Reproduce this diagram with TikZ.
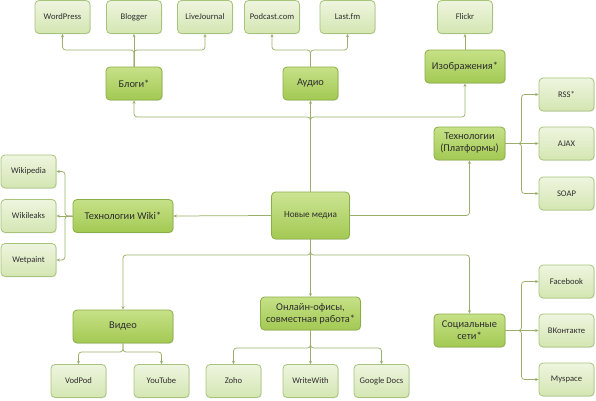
\documentclass[tikz,border=0pt]{standalone}
\usepackage{fontspec}
\setmainfont{Carlito}
\usetikzlibrary{shadows,arrows.meta}
\definecolor{leafTop}{HTML}{EEF5DF}
\definecolor{leafBot}{HTML}{D4E6B2}
\definecolor{leafLine}{HTML}{A8C47C}
\definecolor{midTop}{HTML}{C6E188}
\definecolor{midBot}{HTML}{A3C952}
\definecolor{midLine}{HTML}{8CAE48}
\definecolor{conn}{HTML}{9AB06A}
\definecolor{txt}{HTML}{2E2E2E}
\tikzset{
  x=1pt,y=-1pt,
  box/.style={rounded corners=4pt, align=center, text=txt, inner sep=1pt,
    drop shadow={opacity=0.18, shadow xshift=0.8pt, shadow yshift=-0.8pt}},
  leaf/.style={box, draw=leafLine, line width=0.8pt, top color=leafTop, bottom color=leafBot,
    minimum width=55pt, minimum height=33pt, font=\fontsize{8.6}{10}\selectfont},
  mid/.style={box, draw=midLine, line width=0.8pt, top color=midTop, bottom color=midBot,
    minimum height=33pt, font=\fontsize{10.4}{12}\selectfont},
  hub/.style={box, draw=midLine, line width=0.8pt, top color=midTop!90!white, bottom color=midBot,
    minimum width=78pt, minimum height=47pt, font=\fontsize{9.2}{10}\selectfont},
  arr/.style={draw=conn, line width=0.75pt, rounded corners=3pt, -{Stealth[length=3.4pt,width=3pt]}}
}
\begin{document}
\begin{tikzpicture}
\useasboundingbox (0,0) rectangle (596,400);
% hub
\node[hub] (main) at (310.5,215.5) {Новые медиа};
% top level
\node[mid, minimum width=56pt] (blogs) at (134,83.5) {Блоги*};
\node[mid, minimum width=55pt] (audio) at (310.5,83.5) {Аудио};
\node[mid, minimum width=80pt] (images) at (465,66.5) {Изображения*};
% top leaves
\node[leaf] (wp) at (62.5,17) {WordPress};
\node[leaf] (blogger) at (134,17) {Blogger};
\node[leaf] (lj) at (205,17) {LiveJournal};
\node[leaf] (podcast) at (272,17) {Podcast.com};
\node[leaf] (lastfm) at (347.5,17) {Last.fm};
\node[leaf] (flickr) at (465,17) {Flickr};
% tech
\node[mid, minimum width=71pt] (tech) at (469.5,143.5) {Технологии\\(Платформы)};
\node[leaf] (rss) at (566.5,94.5) {RSS*};
\node[leaf] (ajax) at (566.5,143.5) {AJAX};
\node[leaf] (soap) at (566.5,193.5) {SOAP};
% wiki
\node[mid, minimum width=100pt] (wiki) at (123,216) {Технологии Wiki*};
\node[leaf] (wikipedia) at (28.5,171.5) {Wikipedia};
\node[leaf] (wikileaks) at (28.5,216) {Wikileaks};
\node[leaf] (wetpaint) at (28.5,260) {Wetpaint};
% bottom
\node[mid, minimum width=100pt] (video) at (123,326.5) {Видео};
\node[leaf] (vodpod) at (78.5,381) {VodPod};
\node[leaf] (youtube) at (161.5,381) {YouTube};
\node[mid, minimum width=100pt] (online) at (310.5,313.5) {Онлайн-офисы,\\совместная работа*};
\node[leaf] (zoho) at (233.5,381) {Zoho};
\node[leaf] (writewith) at (310.5,381) {WriteWith};
\node[leaf] (gdocs) at (381.5,381) {Google Docs};
\node[mid, minimum width=71pt] (social) at (469.5,330.5) {Социальные\\сети*};
\node[leaf] (facebook) at (566.5,281.5) {Facebook};
\node[leaf] (vk) at (566.5,330.5) {ВКонтакте};
\node[leaf] (myspace) at (566.5,379.5) {Myspace};
% junction coordinates
\coordinate (bT) at (310.5,117);
\coordinate (bBl) at (134,50);
\coordinate (bAu) at (310.5,50);
\coordinate (tJ) at (521.5,143.5);
\coordinate (wJ) at (65,216);
\coordinate (bB) at (310.5,255);
\coordinate (vJ) at (123,352);
\coordinate (oJ) at (310.5,348);
\coordinate (sJ) at (521.5,330.5);
% hub to top
\draw[arr] (main.north) -- (audio.south);
\draw[arr] (main.north) -- (bT) -| (blogs.south);
\draw[arr] (main.north) -- (bT) -| (images.south);
% blogs leaves
\draw[arr] (blogs.north) -- (blogger.south);
\draw[arr] (blogs.north) -- (bBl) -| (wp.south);
\draw[arr] (blogs.north) -- (bBl) -| (lj.south);
% audio leaves
\draw[arr] (audio.north) -- (bAu) -| (podcast.south);
\draw[arr] (audio.north) -- (bAu) -| (lastfm.south);
% images
\draw[arr] (images.north) -- (flickr.south);
% tech
\draw[arr] (main.east) -| (tech.south);
\draw[arr] (tech.east) -- (ajax.west);
\draw[arr] (tech.east) -- (tJ) |- (rss.west);
\draw[arr] (tech.east) -- (tJ) |- (soap.west);
% wiki
\draw[arr] (main.west) -- (wiki.east);
\draw[arr] (wiki.west) -- (wikileaks.east);
\draw[arr] (wiki.west) -- (wJ) |- (wikipedia.east);
\draw[arr] (wiki.west) -- (wJ) |- (wetpaint.east);
% bottom
\draw[arr] (main.south) -- (online.north);
\draw[arr] (main.south) -- (bB) -| (video.north);
\draw[arr] (main.south) -- (bB) -| (social.north);
% video leaves
\draw[arr] (video.south) -- (vJ) -| (vodpod.north);
\draw[arr] (video.south) -- (vJ) -| (youtube.north);
% online leaves
\draw[arr] (online.south) -- (writewith.north);
\draw[arr] (online.south) -- (oJ) -| (zoho.north);
\draw[arr] (online.south) -- (oJ) -| (gdocs.north);
% social leaves
\draw[arr] (social.east) -- (vk.west);
\draw[arr] (social.east) -- (sJ) |- (facebook.west);
\draw[arr] (social.east) -- (sJ) |- (myspace.west);
\end{tikzpicture}
\end{document}
